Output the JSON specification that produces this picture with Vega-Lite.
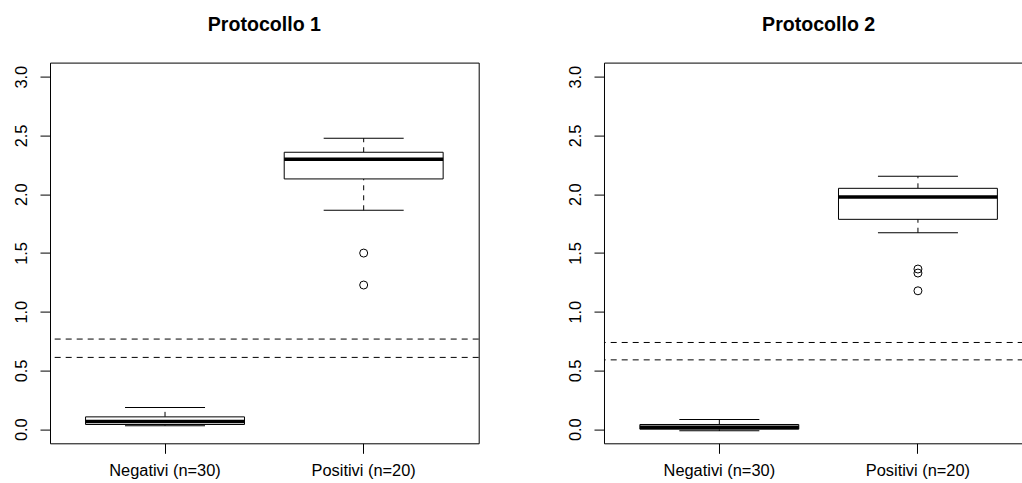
{
  "$schema": "https://vega.github.io/schema/vega-lite/v6.json",
  "autosize": {"type": "pad"},
  "padding": {"left": 0, "top": 13.6, "right": 0, "bottom": 0},
  "background": "white",
  "config": {
    "font": "Liberation Sans",
    "view": {"stroke": "black", "strokeWidth": 1},
    "title": {"fontSize": 19.6, "fontWeight": "bold", "color": "black", "anchor": "middle", "offset": 27, "baseline": "top"},
    "tick": {"opacity": 1},
    "axis": {"grid": false, "domain": false, "tickColor": "black", "tickSize": 10, "tickWidth": 1, "labelColor": "black", "labelFontSize": 16.4, "labelFont": "Liberation Sans", "title": null}
  },
  "spacing": 74,
  "datasets": {
    "stats": [
      {"protocol": "P1", "group": "Negativi (n=30)", "lower": 0.03, "q1": 0.04, "median": 0.066, "q3": 0.105, "upper": 0.185},
      {"protocol": "P1", "group": "Positivi (n=20)", "lower": 1.863, "q1": 2.13, "median": 2.297, "q3": 2.357, "upper": 2.476},
      {"protocol": "P2", "group": "Negativi (n=30)", "lower": -0.014, "q1": 0.0, "median": 0.017, "q3": 0.04, "upper": 0.082},
      {"protocol": "P2", "group": "Positivi (n=20)", "lower": 1.672, "q1": 1.786, "median": 1.976, "q3": 2.05, "upper": 2.152}
    ],
    "outliers": [
      {"protocol": "P1", "group": "Positivi (n=20)", "value": 1.499},
      {"protocol": "P1", "group": "Positivi (n=20)", "value": 1.227},
      {"protocol": "P2", "group": "Positivi (n=20)", "value": 1.363},
      {"protocol": "P2", "group": "Positivi (n=20)", "value": 1.329},
      {"protocol": "P2", "group": "Positivi (n=20)", "value": 1.178}
    ],
    "cutoffs": [
      {"protocol": "P1", "value": 0.767},
      {"protocol": "P1", "value": 0.611},
      {"protocol": "P2", "value": 0.738},
      {"protocol": "P2", "value": 0.59}
    ]
  },
  "hconcat": [
    {
      "title": {"text": "Protocollo 1"},
      "width": 428.7,
      "height": 380.7,
      "layer": [
        {
          "data": {"name": "cutoffs"},
          "transform": [{"filter": "datum.protocol === 'P1'"}],
          "mark": {"type": "rule", "color": "black", "strokeWidth": 1, "strokeDash": [6, 5]},
          "encoding": {"y": {"field": "value", "type": "quantitative", "scale": {"domain": [-0.12, 3.12], "nice": false, "zero": false}}}
        },
        {
          "data": {"name": "stats"},
          "transform": [{"filter": "datum.protocol === 'P1'"}],
          "layer": [
            {"mark": {"type": "rule", "color": "black", "strokeWidth": 1, "strokeDash": [5, 5]},
             "encoding": {"y": {"field": "q3", "type": "quantitative"}, "y2": {"field": "upper"}}},
            {"mark": {"type": "rule", "color": "black", "strokeWidth": 1, "strokeDash": [5, 5]},
             "encoding": {"y": {"field": "lower", "type": "quantitative"}, "y2": {"field": "q1"}}},
            {"mark": {"type": "bar", "fill": "white", "stroke": "black", "strokeWidth": 1, "opacity": 1},
             "encoding": {"y": {"field": "q1", "type": "quantitative"}, "y2": {"field": "q3"}}},
            {"mark": {"type": "tick", "color": "black", "size": 80, "thickness": 1, "orient": "horizontal", "opacity": 1},
             "encoding": {"y": {"field": "upper", "type": "quantitative"}}},
            {"mark": {"type": "tick", "color": "black", "size": 80, "thickness": 1, "orient": "horizontal", "opacity": 1},
             "encoding": {"y": {"field": "lower", "type": "quantitative"}}},
            {"mark": {"type": "tick", "color": "black", "size": 159, "thickness": 3.5, "orient": "horizontal", "opacity": 1},
             "encoding": {"y": {"field": "median", "type": "quantitative"}}}
          ],
          "encoding": {
            "x": {"field": "group", "type": "nominal", "sort": null,
                  "scale": {"type": "band", "paddingInner": 0.2, "paddingOuter": 0.179},
                  "axis": {"labelAngle": 0, "labelPadding": 9, "labelBaseline": "top", "orient": "bottom"}}
          }
        },
        {
          "data": {"name": "outliers"},
          "transform": [{"filter": "datum.protocol === 'P1'"}],
          "mark": {"type": "point", "shape": "circle", "filled": false, "color": "black", "size": 64, "strokeWidth": 1, "opacity": 1},
          "encoding": {
            "x": {"field": "group", "type": "nominal", "sort": null},
            "y": {"field": "value", "type": "quantitative"}
          }
        }
      ],
      "resolve": {"scale": {"x": "shared", "y": "shared"}},
      "encoding": {
        "y": {"type": "quantitative",
              "axis": {"values": [0, 0.5, 1, 1.5, 2, 2.5, 3], "format": ".1f", "labelAngle": -90, "labelAlign": "center", "labelBaseline": "alphabetic", "labelPadding": 13.5, "minExtent": 49.3, "maxExtent": 49.3}}
      }
    },
    {
      "title": {"text": "Protocollo 2", "dx": 4.8},
      "width": 419.7,
      "height": 380.7,
      "layer": [
        {
          "data": {"name": "cutoffs"},
          "transform": [{"filter": "datum.protocol === 'P2'"}],
          "mark": {"type": "rule", "color": "black", "strokeWidth": 1, "strokeDash": [6, 5]},
          "encoding": {"y": {"field": "value", "type": "quantitative", "scale": {"domain": [-0.12, 3.12], "nice": false, "zero": false}}}
        },
        {
          "data": {"name": "stats"},
          "transform": [{"filter": "datum.protocol === 'P2'"}],
          "layer": [
            {"mark": {"type": "rule", "color": "black", "strokeWidth": 1, "strokeDash": [5, 5]},
             "encoding": {"y": {"field": "q3", "type": "quantitative"}, "y2": {"field": "upper"}}},
            {"mark": {"type": "rule", "color": "black", "strokeWidth": 1, "strokeDash": [5, 5]},
             "encoding": {"y": {"field": "lower", "type": "quantitative"}, "y2": {"field": "q1"}}},
            {"mark": {"type": "bar", "fill": "white", "stroke": "black", "strokeWidth": 1, "opacity": 1},
             "encoding": {"y": {"field": "q1", "type": "quantitative"}, "y2": {"field": "q3"}}},
            {"mark": {"type": "tick", "color": "black", "size": 80, "thickness": 1, "orient": "horizontal", "opacity": 1},
             "encoding": {"y": {"field": "upper", "type": "quantitative"}}},
            {"mark": {"type": "tick", "color": "black", "size": 80, "thickness": 1, "orient": "horizontal", "opacity": 1},
             "encoding": {"y": {"field": "lower", "type": "quantitative"}}},
            {"mark": {"type": "tick", "color": "black", "size": 159, "thickness": 3.5, "orient": "horizontal", "opacity": 1},
             "encoding": {"y": {"field": "median", "type": "quantitative"}}}
          ],
          "encoding": {
            "x": {"field": "group", "type": "nominal", "sort": null,
                  "scale": {"type": "band", "paddingInner": 0.2, "paddingOuter": 0.1566, "align": 0.577},
                  "axis": {"labelAngle": 0, "labelPadding": 9, "labelBaseline": "top", "orient": "bottom"}}
          }
        },
        {
          "data": {"name": "outliers"},
          "transform": [{"filter": "datum.protocol === 'P2'"}],
          "mark": {"type": "point", "shape": "circle", "filled": false, "color": "black", "size": 64, "strokeWidth": 1, "opacity": 1},
          "encoding": {
            "x": {"field": "group", "type": "nominal", "sort": null},
            "y": {"field": "value", "type": "quantitative"}
          }
        }
      ],
      "resolve": {"scale": {"x": "shared", "y": "shared"}},
      "encoding": {
        "y": {"type": "quantitative",
              "axis": {"values": [0, 0.5, 1, 1.5, 2, 2.5, 3], "format": ".1f", "labelAngle": -90, "labelAlign": "center", "labelBaseline": "alphabetic", "labelPadding": 13.5, "minExtent": 49.3, "maxExtent": 49.3}}
      }
    }
  ]
}
